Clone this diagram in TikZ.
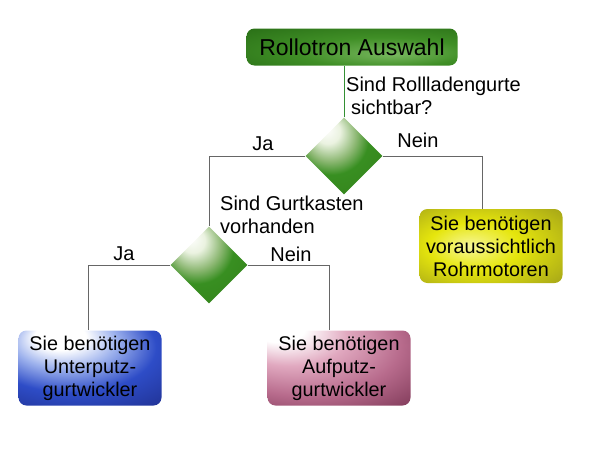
\documentclass[tikz,border=0pt]{standalone}
\usepackage{fontspec}
\setmainfont{Liberation Sans}
\usepackage{tikz}
\usetikzlibrary{shapes.geometric}

\pgfdeclareradialshading{titlegreen}{\pgfpoint{10bp}{-10bp}}{color(0bp)=(rgb,1:red,0.47;green,0.72;blue,0.37); color(20bp)=(rgb,1:red,0.25;green,0.56;blue,0.15); color(45bp)=(rgb,1:red,0.15;green,0.42;blue,0.08); color(70bp)=(rgb,1:red,0.35;green,0.55;blue,0.3)}
\pgfdeclareradialshading{diagreen}{\pgfpoint{-12bp}{18bp}}{color(0bp)=(white); color(8bp)=(rgb,1:red,0.92;green,0.95;blue,0.88); color(17bp)=(rgb,1:red,0.55;green,0.72;blue,0.45); color(24bp)=(rgb,1:red,0.22;green,0.56;blue,0.13); color(45bp)=(rgb,1:red,0.2;green,0.5;blue,0.1); color(70bp)=(rgb,1:red,0.35;green,0.52;blue,0.3)}
\pgfdeclareradialshading{bluebox}{\pgfpoint{-12bp}{24bp}}{color(0bp)=(white); color(9bp)=(white); color(18bp)=(rgb,1:red,0.62;green,0.7;blue,0.93); color(30bp)=(rgb,1:red,0.18;green,0.3;blue,0.78); color(48bp)=(rgb,1:red,0.12;green,0.18;blue,0.55); color(70bp)=(rgb,1:red,0.3;green,0.35;blue,0.58)}
\pgfdeclareradialshading{pinkbox}{\pgfpoint{-24bp}{30bp}}{color(0bp)=(white); color(9bp)=(white); color(20bp)=(rgb,1:red,0.88;green,0.66;blue,0.75); color(34bp)=(rgb,1:red,0.72;green,0.42;blue,0.55); color(52bp)=(rgb,1:red,0.45;green,0.18;blue,0.3); color(70bp)=(rgb,1:red,0.55;green,0.3;blue,0.42)}
\pgfdeclareradialshading{yellowbox}{\pgfpoint{-8bp}{0bp}}{color(0bp)=(rgb,1:red,0.97;green,0.97;blue,0.6); color(16bp)=(rgb,1:red,0.9;green,0.9;blue,0.05); color(40bp)=(rgb,1:red,0.62;green,0.62;blue,0.1); color(60bp)=(rgb,1:red,0.5;green,0.5;blue,0.2)}

\begin{document}
\begin{tikzpicture}[x=1pt, y=-1pt,
box/.style={rounded corners=8pt, minimum width=143pt, minimum height=75pt, inner sep=0pt, align=center, font=\fontsize{19.8}{23}\selectfont},
decision/.style={diamond, minimum width=77pt, minimum height=77pt, inner sep=0pt, shading=diagreen},
question/.style={align=left, anchor=north west, inner sep=0pt, font=\fontsize{20}{23}\selectfont},
answer/.style={inner sep=0pt, font=\fontsize{20}{23}\selectfont},
line/.style={draw=black!60, line width=1pt}
]
\useasboundingbox (0,0) rectangle (610,458);
%Nodes
\node[box, minimum width=211pt, minimum height=37pt, shading=titlegreen, font=\fontsize{23}{27}\selectfont] (top) at (352,47) {Rollotron Auswahl};
\node[decision]  (d1)  at (344,156) {};
\node[decision]  (d2)  at (209,265) {};
\node[box, shading=yellowbox, minimum height=74pt] (rohr)  at (491,246) {Sie benötigen\\voraussichtlich\\Rohrmotoren};
\node[box, shading=bluebox]   (unter) at (90,368)  {Sie benötigen\\Unterputz-\\gurtwickler};
\node[box, shading=pinkbox]   (auf)   at (339,368) {Sie benötigen\\Aufputz-\\gurtwickler};
%Texts
\node[question]  (q1)  at (346,77)  {Sind Rollladengurte\\\hspace{5pt}sichtbar?};
\node[question]  (q2)  at (220,196) {Sind Gurtkasten\\vorhanden};
\node[answer]    (ja1)   at (263,144) {Ja};
\node[answer]    (nein1) at (418,140) {Nein};
\node[answer]    (ja2)   at (124,254) {Ja};
\node[answer]    (nein2) at (291,254) {Nein};
%Lines
\draw[line, draw=green!45!black!80] (d1.north) -- (d1.north |- top.south);
\draw[line] (d1.west) -| (d2.north);
\draw[line] (d1.east) -| ([xshift=-9pt]rohr.north);
\draw[line] (d2.west) -| ([xshift=-2pt]unter.north);
\draw[line] (d2.east) -| ([xshift=-10pt]auf.north);
\end{tikzpicture}
\end{document}
